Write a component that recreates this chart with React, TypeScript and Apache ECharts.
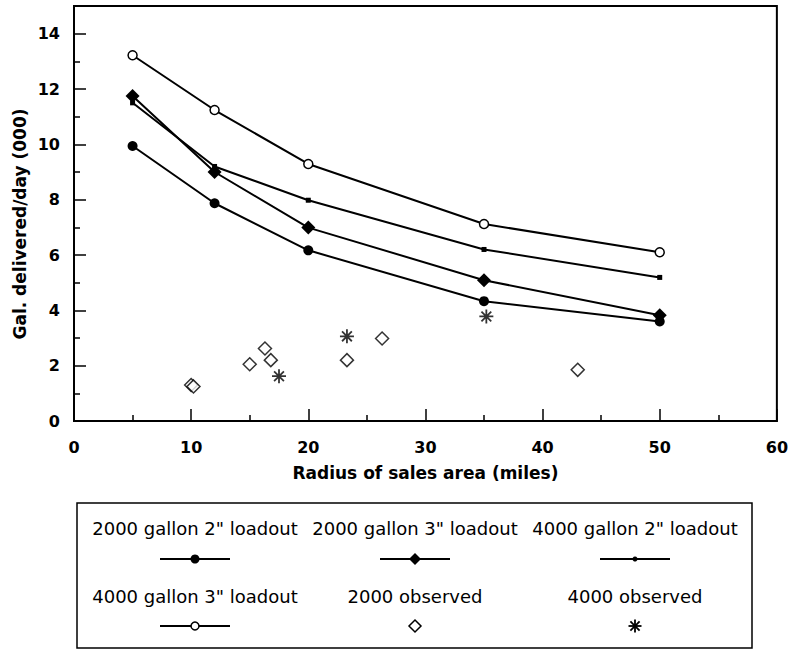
import React, { useEffect, useRef } from "react";
import * as echarts from "echarts";

const xValues = [5, 12, 20, 35, 50];
const gal2000_2in = [9.94, 7.87, 6.17, 4.33, 3.6];
const gal2000_3in = [11.75, 9.0, 6.99, 5.09, 3.82];
const gal4000_2in = [11.5, 9.2, 7.98, 6.2, 5.19];
const gal4000_3in = [13.22, 11.24, 9.29, 7.12, 6.1];
const obs2000X = [10.0, 10.2, 15.0, 16.3, 16.8, 23.3, 26.3, 43.0];
const obs2000Y = [1.3, 1.25, 2.05, 2.62, 2.2, 2.2, 2.98, 1.85];
const obs4000X = [17.5, 23.3, 35.2];
const obs4000Y = [1.62, 3.06, 3.78];

const seriesNames = [
  '2000 gallon 2" loadout',
  '2000 gallon 3" loadout',
  '4000 gallon 2" loadout',
  '4000 gallon 3" loadout',
  "2000 observed",
  "4000 observed",
];
const yAxisTitle = "Gal. delivered/day (000)";
const xAxisTitle = "Radius of sales area (miles)";

const ASTERISK =
  "path://M5 0 L5 10 M0 5 L10 5 M1.5 1.5 L8.5 8.5 M8.5 1.5 L1.5 8.5";

const FONT = "DejaVu Sans";

function pairs(xs: number[], ys: number[]) {
  return xs.map((x, i) => [x, ys[i]]);
}

export default function App() {
  const ref = useRef<HTMLDivElement>(null);
  useEffect(() => {
    document.body.style.margin = "0";
    if (!ref.current) return;
    const chart = echarts.init(ref.current, null, { renderer: "svg" });

    const lineSeries = (name: string, ys: number[], symbol: string, size: number, fill: string) => ({
      name,
      type: "line",
      data: pairs(xValues, ys),
      symbol,
      symbolSize: size,
      showSymbol: true,
      lineStyle: { color: "#000", width: 2 },
      itemStyle: { color: fill, borderColor: "#000", borderWidth: fill === "#fff" ? 1.5 : 0 },
      z: 3,
    });

    const colX = [195, 415, 635];
    const rowText = [528, 596];
    const rowSym = [559, 626];
    const graphics: any[] = [
      {
        type: "text",
        x: 20,
        y: 224,
        rotation: Math.PI / 2,
        style: {
          text: yAxisTitle,
          font: `bold 17px "${FONT}"`,
          fill: "#000",
          align: "center",
          verticalAlign: "middle",
        },
      },
      {
        type: "rect",
        shape: { x: 77, y: 503, width: 675, height: 145 },
        style: { fill: "none", stroke: "#000", lineWidth: 1.5 },
      },
    ];
    seriesNames.forEach((nm, i) => {
      const c = i % 3;
      const r = Math.floor(i / 3);
      const cx = colX[c];
      graphics.push({
        type: "text",
        x: cx,
        y: rowText[r],
        style: {
          text: nm,
          font: `18px "${FONT}"`,
          fill: "#000",
          align: "center",
          verticalAlign: "middle",
        },
      });
      const sy = rowSym[r];
      if (i < 4) {
        graphics.push({
          type: "line",
          shape: { x1: cx - 35, y1: sy, x2: cx + 35, y2: sy },
          style: { stroke: "#000", lineWidth: 2 },
        });
      }
      if (i === 0) {
        graphics.push({ type: "circle", shape: { cx, cy: sy, r: 4.5 }, style: { fill: "#000" } });
      } else if (i === 1) {
        graphics.push({
          type: "polygon",
          shape: { points: [[cx, sy - 6], [cx + 6, sy], [cx, sy + 6], [cx - 6, sy]] },
          style: { fill: "#000" },
        });
      } else if (i === 2) {
        graphics.push({ type: "circle", shape: { cx, cy: sy, r: 2.5 }, style: { fill: "#000" } });
      } else if (i === 3) {
        graphics.push({
          type: "circle",
          shape: { cx, cy: sy, r: 4 },
          style: { fill: "#fff", stroke: "#000", lineWidth: 1.5 },
        });
      } else if (i === 4) {
        graphics.push({
          type: "polygon",
          shape: { points: [[cx, sy - 6], [cx + 6, sy], [cx, sy + 6], [cx - 6, sy]] },
          style: { fill: "#fff", stroke: "#000", lineWidth: 1.5 },
        });
      } else {
        const a = 6.5;
        const d = 4.6;
        [
          [cx, sy - a, cx, sy + a],
          [cx - a, sy, cx + a, sy],
          [cx - d, sy - d, cx + d, sy + d],
          [cx + d, sy - d, cx - d, sy + d],
        ].forEach(([x1, y1, x2, y2]) =>
          graphics.push({
            type: "line",
            shape: { x1, y1, x2, y2 },
            style: { stroke: "#000", lineWidth: 1.8 },
          })
        );
      }
    });

    const option: any = {
      animation: false,
      backgroundColor: "#fff",
      textStyle: { fontFamily: FONT },
      grid: {
        left: 74,
        top: 6,
        right: 13,
        bottom: 228,
        show: true,
        borderColor: "#000",
        borderWidth: 2,
        backgroundColor: "transparent",
      },
      xAxis: {
        type: "value",
        min: 0,
        max: 60,
        interval: 10,
        name: xAxisTitle,
        nameLocation: "middle",
        nameGap: 43,
        nameTextStyle: { fontFamily: FONT, fontWeight: "bold", fontSize: 17, color: "#000" },
        axisLine: { show: true, onZero: false, lineStyle: { color: "#000", width: 2 } },
        axisTick: { show: true, inside: true, length: 12, lineStyle: { color: "#000", width: 1.5 } },
        minorTick: { show: true, splitNumber: 2, length: 6, lineStyle: { color: "#000", width: 1.5 } },
        axisLabel: { fontFamily: FONT, fontWeight: "bold", fontSize: 16, color: "#000", margin: 18 },
        splitLine: { show: false },
      },
      yAxis: {
        type: "value",
        min: 0,
        max: 15,
        interval: 2,
        axisLine: { show: true, lineStyle: { color: "#000", width: 2 } },
        axisTick: { show: true, inside: true, length: 12, lineStyle: { color: "#000", width: 1.5 } },
        minorTick: { show: true, splitNumber: 2, length: 6, lineStyle: { color: "#000", width: 1.5 } },
        axisLabel: {
          fontFamily: FONT,
          fontWeight: "bold",
          fontSize: 16,
          color: "#000",
          margin: 14,
          showMaxLabel: false,
        },
        splitLine: { show: false },
      },
      series: [
        lineSeries(seriesNames[0], gal2000_2in, "circle", 10, "#000"),
        lineSeries(seriesNames[1], gal2000_3in, "diamond", 14, "#000"),
        lineSeries(seriesNames[2], gal4000_2in, "rect", 5, "#000"),
        lineSeries(seriesNames[3], gal4000_3in, "circle", 9, "#fff"),
        {
          name: seriesNames[4],
          type: "scatter",
          data: pairs(obs2000X, obs2000Y),
          symbol: "diamond",
          symbolSize: 13,
          itemStyle: { color: "#fff", borderColor: "#000", borderWidth: 1.5 },
          z: 4,
        },
        {
          name: seriesNames[5],
          type: "scatter",
          data: pairs(obs4000X, obs4000Y),
          symbol: ASTERISK,
          symbolSize: 14,
          itemStyle: { color: "none", borderColor: "#000", borderWidth: 1.8 },
          z: 4,
        },
      ],
      graphic: graphics,
    };
    chart.setOption(option);
    return () => chart.dispose();
  }, []);
  return <div ref={ref} style={{ width: 791, height: 649 }} />;
}
